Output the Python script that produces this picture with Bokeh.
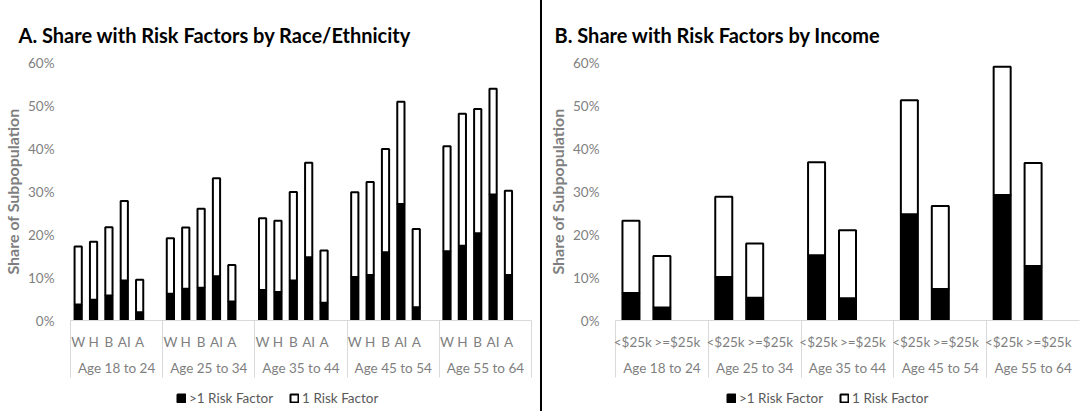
from bokeh.plotting import figure
from bokeh.models import (Range1d, Legend, LegendItem, PrintfTickFormatter, FixedTicker,
                          ColumnDataSource, Div, LinearAxis)
from bokeh.layouts import row, column
from bokeh.embed import file_html
from bokeh.resources import INLINE

ages = ["Age 18 to 24", "Age 25 to 34", "Age 35 to 44", "Age 45 to 54", "Age 55 to 64"]
races = ["W", "H", "B", "AI", "A"]
race_multi = [3.7, 4.8, 5.8, 9.3, 1.9,
              6.2, 7.4, 7.6, 10.3, 4.4,
              7.1, 6.6, 9.3, 14.7, 4.1,
              10.1, 10.6, 15.9, 27.1, 3.1,
              16.1, 17.4, 20.3, 29.3, 10.6]
race_single = [13.5, 13.5, 15.9, 18.5, 7.6,
               12.9, 14.2, 18.4, 22.8, 8.5,
               16.7, 16.6, 20.6, 22.0, 12.2,
               19.7, 21.6, 24.0, 23.8, 18.2,
               24.4, 30.7, 28.9, 24.6, 19.6]
incomes = ["<$25k", ">=$25k"]
inc_multi = [6.4, 3.0, 10.1, 5.3, 15.2, 5.2, 24.7, 7.3, 29.2, 12.7]
inc_single = [16.8, 12.0, 18.7, 12.6, 21.6, 15.8, 26.5, 19.3, 29.8, 23.9]
y_ticks = [0, 10, 20, 30, 40, 50, 60]
series_labels = [">1 Risk Factor", "1 Risk Factor"]
titles = ["A. Share with Risk Factors by Race/Ethnicity", "B. Share with Risk Factors by Income"]
y_label = "Share of Subpopulation"

FONT = "Lato"
GRAY = "#7f7f7f"
LIGHT = "#d9d9d9"
H_MAIN = 386
H_LEG = 25
SEP_LEN = 57


def plain_axis(ax, standoff):
    ax.axis_line_color = None
    ax.major_tick_line_color = None
    ax.minor_tick_line_color = None
    ax.major_tick_out = 0
    ax.major_tick_in = 0
    ax.minor_tick_out = 0
    ax.minor_tick_in = 0
    ax.major_label_standoff = standoff
    ax.major_label_text_font = FONT
    ax.major_label_text_font_size = "13.5px"
    ax.major_label_text_color = GRAY


def make(n_sub, slots, subs, multi, single, width, title, min_left, min_right, bar_w,
         title_offset, sub_shift, end_sep):
    """n_sub: bars per age group; slots: category slots per age group (last one empty)."""
    n_groups = len(ages)
    xs = [g * slots + i + 0.5 for g in range(n_groups) for i in range(n_sub)]
    src = ColumnDataSource(dict(x=xs, multi=multi, single=single))
    p = figure(x_range=Range1d(0, n_groups * slots), y_range=Range1d(0, 60),
               width=width, height=H_MAIN, output_backend="svg", toolbar_location=None,
               min_border_left=min_left, min_border_right=min_right,
               min_border_top=62, min_border_bottom=H_MAIN - 320)
    p.vbar_stack(["multi", "single"], x="x", width=bar_w, source=src,
                 fill_color=["black", "white"], line_color="black", line_width=2)
    p.title.text = title
    p.title.text_font = FONT
    p.title.text_font_size = "20px"
    p.title.text_font_style = "bold"
    p.title.text_color = "black"
    p.title.standoff = 31
    p.title.offset = title_offset
    p.outline_line_color = None
    for g in p.grid:
        g.grid_line_color = None
        g.minor_grid_line_color = None
        g.visible = False

    ya = p.yaxis[0]
    ya.ticker = FixedTicker(ticks=y_ticks, minor_ticks=[])
    ya.formatter = PrintfTickFormatter(format="%d%%")
    plain_axis(ya, 16)
    ya.axis_label = y_label
    ya.axis_label_text_font = FONT
    ya.axis_label_text_font_size = "16px"
    ya.axis_label_text_font_style = "bold"
    ya.axis_label_text_color = GRAY
    ya.axis_label_standoff = 3

    # sub-category labels; group separators as long minor ticks below the axis line
    sub_pos = [round(g * slots + i + 0.5 + sub_shift[i], 3)
               for g in range(n_groups) for i in range(n_sub)]
    sub_txt = [subs[i] for g in range(n_groups) for i in range(n_sub)]
    n_sep = n_groups + 1 if end_sep else n_groups
    seps = [g * slots for g in range(n_sep)]
    xa = p.xaxis[0]
    xa.ticker = FixedTicker(ticks=sub_pos, minor_ticks=seps)
    xa.major_label_overrides = dict(zip(sub_pos, sub_txt))
    plain_axis(xa, 13 - SEP_LEN)
    xa.axis_line_color = LIGHT
    xa.minor_tick_line_color = LIGHT
    xa.minor_tick_out = SEP_LEN

    # age group labels
    grp_pos = [g * slots + slots / 2 for g in range(n_groups)]
    ga = LinearAxis(ticker=FixedTicker(ticks=grp_pos, minor_ticks=[]),
                    major_label_overrides=dict(zip(grp_pos, ages)))
    plain_axis(ga, 7)
    p.add_layout(ga, "below")
    return p


def make_legend(width, x_loc):
    lp = figure(x_range=Range1d(0, 1), y_range=Range1d(0, 1), width=width, height=H_LEG,
                output_backend="svg", toolbar_location=None, min_border=0,
                x_axis_location=None, y_axis_location=None)
    lp.grid.visible = False
    lp.outline_line_color = None
    # key swatches only: a placeholder row with no drawable value
    key_src = ColumnDataSource(dict(x=[float("nan")], top=[float("nan")]))
    r0 = lp.vbar(x="x", top="top", width=0.5, source=key_src, fill_color="black",
                 line_color="black", line_width=2)
    r1 = lp.vbar(x="x", top="top", width=0.5, source=key_src, fill_color="white",
                 line_color="black", line_width=2)
    legend = Legend(items=[LegendItem(label=series_labels[0], renderers=[r0]),
                           LegendItem(label=series_labels[1], renderers=[r1])],
                    orientation="horizontal", location=(x_loc, 5),
                    border_line_color=None, background_fill_alpha=0,
                    label_text_font=FONT, label_text_font_size="13.5px",
                    label_text_color="#595959", glyph_width=10, glyph_height=10,
                    label_standoff=3, spacing=16, padding=0, margin=0)
    lp.add_layout(legend)
    return lp


p1 = make(5, 6, races, race_multi, race_single, 540, titles[0], 66, 9, 0.47, -52,
          [0, 0, 0, 0, 0], True)
p2 = make(2, 3, incomes, inc_multi, inc_single, 538, titles[1], 73, 1, 0.55, -61,
          [0.06, 0.5], False)
l1 = make_legend(540, 106)
l2 = make_legend(538, 111)

for m in (p1, p2, l1, l2):
    m.margin = 0

divider = Div(text="", width=2, height=H_MAIN + H_LEG,
              styles={"background-color": "black"}, margin=0)
layout = row(column(p1, l1, spacing=0, margin=0), divider,
             column(p2, l2, spacing=0, margin=0), margin=0, spacing=0)

open("out.html", "w").write(file_html(layout, INLINE))
